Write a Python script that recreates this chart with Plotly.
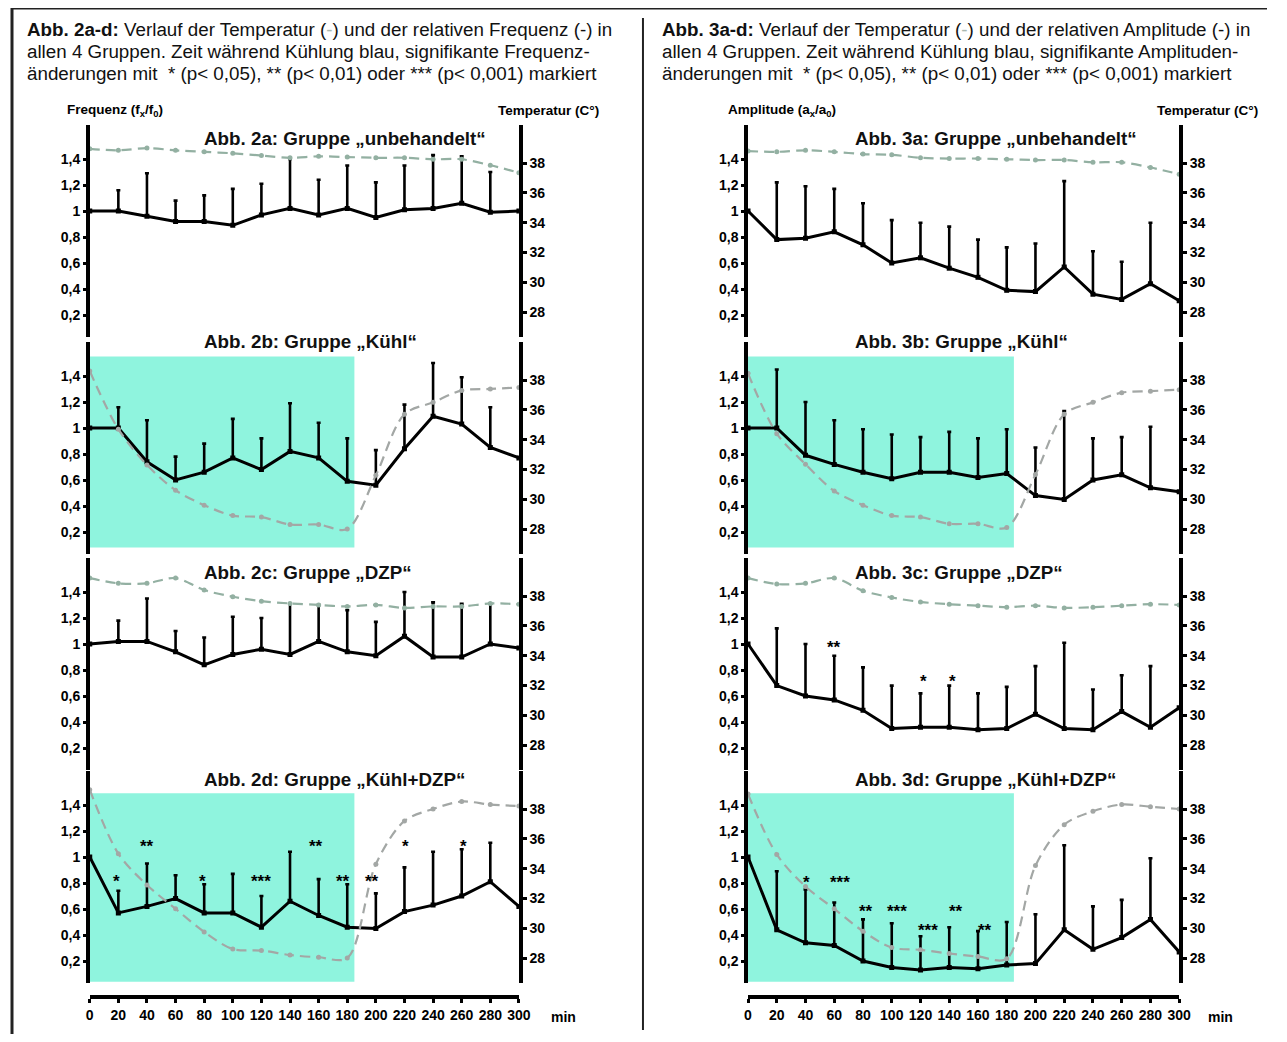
import plotly.graph_objects as go

# ---------------- data ----------------
minutes = [0, 20, 40, 60, 80, 100, 120, 140, 160, 180, 200, 220, 240, 260, 280, 300]
left_ticks = [0.2, 0.4, 0.6, 0.8, 1.0, 1.2, 1.4]
left_ticktext = ["0,2", "0,4", "0,6", "0,8", "1", "1,2", "1,4"]
temp_ticks = [28, 30, 32, 34, 36, 38]

# Frequenz (Abb. 2a-d): mean, upper end of SD bar, temperature
freq_a_mean = [1.00, 1.00, 0.96, 0.92, 0.92, 0.89, 0.97, 1.02, 0.97, 1.02, 0.95, 1.01, 1.02, 1.06, 0.99, 1.00]
freq_a_top = [None, 1.16, 1.29, 1.08, 1.12, 1.17, 1.21, 1.40, 1.24, 1.35, 1.22, 1.35, 1.43, 1.42, 1.30, None]
freq_a_temp = [38.95, 38.85, 39.0, 38.85, 38.75, 38.65, 38.5, 38.35, 38.45, 38.4, 38.35, 38.35, 38.25, 38.25, 37.85, 37.35]

freq_b_mean = [1.00, 1.00, 0.74, 0.60, 0.66, 0.77, 0.68, 0.82, 0.77, 0.59, 0.56, 0.84, 1.09, 1.03, 0.85, 0.77]
freq_b_top = [None, 1.16, 1.06, 0.78, 0.88, 1.07, 0.92, 1.19, 1.04, 0.92, 0.83, 1.18, 1.50, 1.39, 1.16, None]
freq_b_temp = [38.6, 34.7, 32.3, 30.6, 29.6, 28.9, 28.8, 28.3, 28.3, 28.0, 31.6, 35.7, 36.5, 37.3, 37.4, 37.5]

freq_c_mean = [1.00, 1.02, 1.02, 0.94, 0.84, 0.92, 0.96, 0.92, 1.02, 0.94, 0.91, 1.06, 0.90, 0.90, 1.00, 0.97]
freq_c_top = [None, 1.18, 1.35, 1.10, 1.05, 1.21, 1.20, 1.31, 1.30, 1.26, 1.17, 1.40, 1.32, 1.31, 1.31, None]
freq_c_temp = [39.2, 38.85, 38.85, 39.2, 38.4, 37.95, 37.65, 37.5, 37.4, 37.3, 37.4, 37.2, 37.3, 37.3, 37.5, 37.45]

freq_d_mean = [1.00, 0.57, 0.62, 0.68, 0.57, 0.57, 0.46, 0.66, 0.55, 0.46, 0.45, 0.58, 0.63, 0.70, 0.81, 0.62]
freq_d_top = [None, 0.74, 0.95, 0.86, 0.79, 0.87, 0.70, 1.04, 0.83, 0.79, 0.72, 0.92, 1.04, 1.06, 1.11, None]
freq_d_temp = [39.3, 35.0, 32.9, 31.3, 29.75, 28.6, 28.5, 28.2, 28.05, 28.0, 34.3, 37.2, 38.0, 38.5, 38.3, 38.2]
freq_d_star_x = [19, 40, 79, 120, 158, 177, 197, 221, 261]
freq_d_star_y = [0.85, 1.12, 0.85, 0.85, 1.12, 0.85, 0.85, 1.12, 1.12]
freq_d_star_txt = ["*", "**", "*", "***", "**", "**", "**", "*", "*"]

# Amplitude (Abb. 3a-d)
amp_a_mean = [1.00, 0.78, 0.79, 0.84, 0.74, 0.60, 0.64, 0.56, 0.49, 0.39, 0.38, 0.57, 0.36, 0.32, 0.44, 0.31]
amp_a_top = [None, 1.22, 1.19, 1.17, 1.06, 0.93, 0.91, 0.88, 0.78, 0.72, 0.75, 1.23, 0.69, 0.61, 0.91, None]
amp_a_temp = [38.8, 38.75, 38.85, 38.75, 38.6, 38.55, 38.35, 38.3, 38.3, 38.25, 38.2, 38.2, 38.05, 38.05, 37.7, 37.25]

amp_b_mean = [1.00, 1.00, 0.79, 0.72, 0.66, 0.61, 0.66, 0.66, 0.62, 0.65, 0.48, 0.45, 0.60, 0.64, 0.54, 0.51]
amp_b_top = [None, 1.45, 1.20, 1.06, 0.99, 0.95, 0.93, 0.97, 0.92, 0.99, 0.85, 1.13, 0.92, 0.93, 1.01, None]
amp_b_temp = [38.45, 34.4, 32.35, 30.55, 29.6, 28.9, 28.8, 28.35, 28.35, 28.1, 31.65, 35.7, 36.5, 37.15, 37.25, 37.35]

amp_c_mean = [1.00, 0.68, 0.60, 0.57, 0.49, 0.35, 0.36, 0.36, 0.34, 0.35, 0.46, 0.35, 0.34, 0.48, 0.36, 0.51]
amp_c_top = [None, 1.12, 1.00, 0.91, 0.82, 0.68, 0.62, 0.68, 0.62, 0.67, 0.83, 1.01, 0.65, 0.76, 0.83, None]
amp_c_temp = [39.2, 38.8, 38.85, 39.2, 38.35, 37.9, 37.6, 37.45, 37.35, 37.25, 37.35, 37.2, 37.25, 37.35, 37.45, 37.4]
amp_c_star_x = [60, 122, 142]
amp_c_star_y = [1.01, 0.75, 0.75]
amp_c_star_txt = ["**", "*", "*"]

amp_d_mean = [1.00, 0.44, 0.34, 0.32, 0.20, 0.15, 0.13, 0.15, 0.14, 0.17, 0.18, 0.44, 0.29, 0.38, 0.52, 0.27]
amp_d_top = [None, 0.89, 0.75, 0.65, 0.52, 0.49, 0.39, 0.46, 0.43, 0.50, 0.56, 1.09, 0.62, 0.67, 0.99, None]
amp_d_temp = [39.0, 34.95, 32.8, 31.3, 29.8, 28.7, 28.55, 28.3, 28.1, 27.95, 34.2, 36.95, 37.85, 38.3, 38.15, 38.0]
amp_d_star_x = [40.5, 64, 82, 104, 125, 145, 165]
amp_d_star_y = [0.84, 0.84, 0.62, 0.62, 0.47, 0.62, 0.47]
amp_d_star_txt = ["*", "***", "**", "***", "***", "**", "**"]

cooling_start, cooling_end = 0, 185

titles_freq = ["Abb. 2a: Gruppe „unbehandelt“", "Abb. 2b: Gruppe „Kühl“",
               "Abb. 2c: Gruppe „DZP“", "Abb. 2d: Gruppe „Kühl+DZP“"]
titles_amp = ["Abb. 3a: Gruppe „unbehandelt“", "Abb. 3b: Gruppe „Kühl“",
              "Abb. 3c: Gruppe „DZP“", "Abb. 3d: Gruppe „Kühl+DZP“"]

# ---------------- layout geometry (reference pixels) ----------------
PAGE_W, PAGE_H = 1287, 1042
OFF = 8                                   # page body margin
W, H = PAGE_W - 2 * OFF, PAGE_H - 2 * OFF  # figure fits in the window
HX_SCALE, HX_SHIFT = 0.987, 6.4           # observed horizontal mapping of the capture
FONT = "Liberation Sans"
COLS = [(92, 521), (750, 1181)]
ROW_Y14 = [159, 376, 592, 805]          # pixel row of the 1,4 tick
PX_PER_UNIT = 130.0
PX_PER_DEG = 14.9
LEFT_RANGE = [0.03, 1.66]
SHADE_Y = {1: (0.08, 1.55), 3: (0.04, 1.49)}
XAXIS_PX = 997
TITLE_Y = [138, 341, 572, 779]
TITLE_X = [204, 855]
TEMP_GREEN = "#93b0a2"
TEMP_GREY = "#a3a7a5"
SHADE = "#8ff4de"


def xp(px):
    page_x = (px - HX_SHIFT) / HX_SCALE
    return min(max((page_x - OFF) / W, 0), 1)


def yp(px):
    return min(max(1 - (px - OFF) / H, 0), 1)


panels = [
    (0, 0, freq_a_mean, freq_a_top, freq_a_temp, None, TEMP_GREEN),
    (0, 1, freq_b_mean, freq_b_top, freq_b_temp, None, TEMP_GREY),
    (0, 2, freq_c_mean, freq_c_top, freq_c_temp, None, TEMP_GREEN),
    (0, 3, freq_d_mean, freq_d_top, freq_d_temp, (freq_d_star_x, freq_d_star_y, freq_d_star_txt), TEMP_GREY),
    (1, 0, amp_a_mean, amp_a_top, amp_a_temp, None, TEMP_GREEN),
    (1, 1, amp_b_mean, amp_b_top, amp_b_temp, None, TEMP_GREY),
    (1, 2, amp_c_mean, amp_c_top, amp_c_temp, (amp_c_star_x, amp_c_star_y, amp_c_star_txt), TEMP_GREEN),
    (1, 3, amp_d_mean, amp_d_top, amp_d_temp, (amp_d_star_x, amp_d_star_y, amp_d_star_txt), TEMP_GREY),
]

fig = go.Figure()
layout = {}
shapes = []
annotations = []
tickfont = dict(family=FONT, size=14, color="black", weight="bold")

for i, (col, row, mean, top, temp, stars, tcol) in enumerate(panels):
    n = i + 1
    xid = "x" if n == 1 else f"x{n}"
    ylid_n, yrid_n = 2 * i + 1, 2 * i + 2
    ylid = "y" if ylid_n == 1 else f"y{ylid_n}"
    yrid = f"y{yrid_n}"
    xkey = "xaxis" if n == 1 else f"xaxis{n}"
    ylkey = "yaxis" if ylid_n == 1 else f"yaxis{ylid_n}"
    yrkey = f"yaxis{yrid_n}"

    y14 = ROW_Y14[row]
    top_px = y14 - (LEFT_RANGE[1] - 1.4) * PX_PER_UNIT
    bot_px = y14 + (1.4 - LEFT_RANGE[0]) * PX_PER_UNIT
    y38 = y14 + 4
    t_top = 38 + (y38 - top_px) / PX_PER_DEG
    t_bot = 38 - (bot_px - y38) / PX_PER_DEG
    x0px, x1px = COLS[col]

    if row == 3:
        layout[xkey] = dict(domain=[xp(x0px), xp(x1px)], range=[0, 300], anchor="free",
                            position=yp(XAXIS_PX), showline=True, linewidth=4, linecolor="black",
                            ticks="outside", ticklen=4, tickwidth=3, tickcolor="black",
                            tickvals=minutes, ticktext=[str(m) for m in minutes],
                            tickfont=tickfont, showgrid=False, zeroline=False, fixedrange=True)
    else:
        layout[xkey] = dict(domain=[xp(x0px), xp(x1px)], range=[0, 300], anchor=ylid,
                            visible=False, fixedrange=True)

    layout[ylkey] = dict(domain=[yp(bot_px), yp(top_px)], range=LEFT_RANGE, anchor=xid,
                         tickvals=left_ticks, ticktext=left_ticktext, tickfont=tickfont,
                         showline=True, linewidth=3.5, linecolor="black",
                         ticks="outside", ticklen=3, tickwidth=3, tickcolor="black",
                         showgrid=False, zeroline=False, fixedrange=True)
    layout[yrkey] = dict(range=[t_bot, t_top], anchor=xid, overlaying=ylid, side="right",
                         tickvals=temp_ticks, ticktext=[str(t) for t in temp_ticks], tickfont=tickfont,
                         showline=True, linewidth=3.5, linecolor="black",
                         ticks="outside", ticklen=4, tickwidth=3, tickcolor="black",
                         showgrid=False, zeroline=False, fixedrange=True)

    plus = [(t - m) if t is not None else 0 for t, m in zip(top, mean)]
    fig.add_trace(go.Scatter(
        x=minutes, y=mean, xaxis=xid, yaxis=ylid, mode="lines+markers",
        line=dict(color="black", width=3),
        marker=dict(symbol="square", size=5, color="black"),
        error_y=dict(type="data", symmetric=False, array=plus, arrayminus=[0] * len(mean),
                     color="black", thickness=2.6, width=2),
        showlegend=False, hoverinfo="skip"))
    fig.add_trace(go.Scatter(
        x=minutes, y=temp, xaxis=xid, yaxis=yrid, mode="lines+markers",
        line=dict(color=tcol, width=2.2, dash="10px,6px", shape="spline", smoothing=0.9),
        marker=dict(size=5, color=tcol),
        showlegend=False, hoverinfo="skip"))

    if row in SHADE_Y:
        sy0, sy1 = SHADE_Y[row]
        shapes.append(dict(type="rect", xref=xid, yref=ylid, x0=cooling_start, x1=cooling_end,
                           y0=sy0, y1=sy1, fillcolor=SHADE, line=dict(width=0), layer="below"))

    if stars is not None:
        sx, sy, st = stars
        for a, b, c in zip(sx, sy, st):
            annotations.append(dict(x=a, y=b, xref=xid, yref=ylid, text=f"<b>{c}</b>",
                                    xanchor="center", showarrow=False, yshift=-5,
                                    font=dict(family=FONT, size=17, color="black")))

    titles = titles_freq if col == 0 else titles_amp
    annotations.append(dict(x=xp(TITLE_X[col]), y=yp(TITLE_Y[row]), xref="paper", yref="paper",
                            xanchor="left", yanchor="middle", text=f"<b>{titles[row]}</b>",
                            showarrow=False, font=dict(family=FONT, size=18.8, color="#111")))

# "min" labels
for xpx in (566, 1222):
    annotations.append(dict(x=xp(xpx), y=yp(1017), xref="paper", yref="paper", text="<b>min</b>",
                            xanchor="center", yanchor="middle", showarrow=False,
                            font=dict(family=FONT, size=14, color="black")))

# axis headers
hdr_font = dict(family=FONT, size=13.5, color="black")
for xpx, txt in [(67, "<b>Frequenz (f<sub>x</sub>/f<sub>0</sub>)</b>"),
                 (498, "<b>Temperatur (C°)</b>"),
                 (728, "<b>Amplitude (a<sub>x</sub>/a<sub>0</sub>)</b>"),
                 (1157, "<b>Temperatur (C°)</b>")]:
    annotations.append(dict(x=xp(xpx), y=yp(111), xref="paper", yref="paper", xanchor="left",
                            yanchor="middle", text=txt, showarrow=False, font=hdr_font))

# captions
dash_span = "(<span style='color:#a9b8b0'>-</span>)"
cap_left = [f"<b>Abb. 2a-d:</b> Verlauf der Temperatur {dash_span} und der relativen Frequenz (-) in",
            "allen 4 Gruppen. Zeit während Kühlung blau, signifikante Frequenz-",
            "änderungen mit  * (p< 0,05), ** (p< 0,01) oder *** (p< 0,001) markiert"]
cap_right = [f"<b>Abb. 3a-d:</b> Verlauf der Temperatur {dash_span} und der relativen Amplitude (-) in",
             "allen 4 Gruppen. Zeit während Kühlung blau, signifikante Amplituden-",
             "änderungen mit  * (p< 0,05), ** (p< 0,01) oder *** (p< 0,001) markiert"]
cap_font = dict(family=FONT, size=18.8, color="#111")
for xpx, lines in [(27, cap_left), (662, cap_right)]:
    for k, line in enumerate(lines):
        annotations.append(dict(x=xp(xpx), y=yp(30 + 21.7 * k), xref="paper", yref="paper",
                                xanchor="left", yanchor="middle", text=line, showarrow=False,
                                font=cap_font))

# frame lines
frame = dict(color="#222", width=3)
shapes += [
    dict(type="line", xref="paper", yref="paper", x0=0, x1=1, y0=1, y1=1, line=frame),
    dict(type="line", xref="paper", yref="paper", x0=0, x1=0, y0=1, y1=0, line=frame),
    dict(type="line", xref="paper", yref="paper", x0=xp(645), x1=xp(645), y0=yp(18), y1=yp(1030),
         line=dict(color="#222", width=2)),
]

fig.update_layout(
    width=W, height=H, autosize=False,
    margin=dict(l=0, r=0, t=0, b=0),
    paper_bgcolor="white", plot_bgcolor="rgba(0,0,0,0)",
    showlegend=False,
    shapes=shapes, annotations=annotations,
    **layout,
)

fig.write_html("out.html")
